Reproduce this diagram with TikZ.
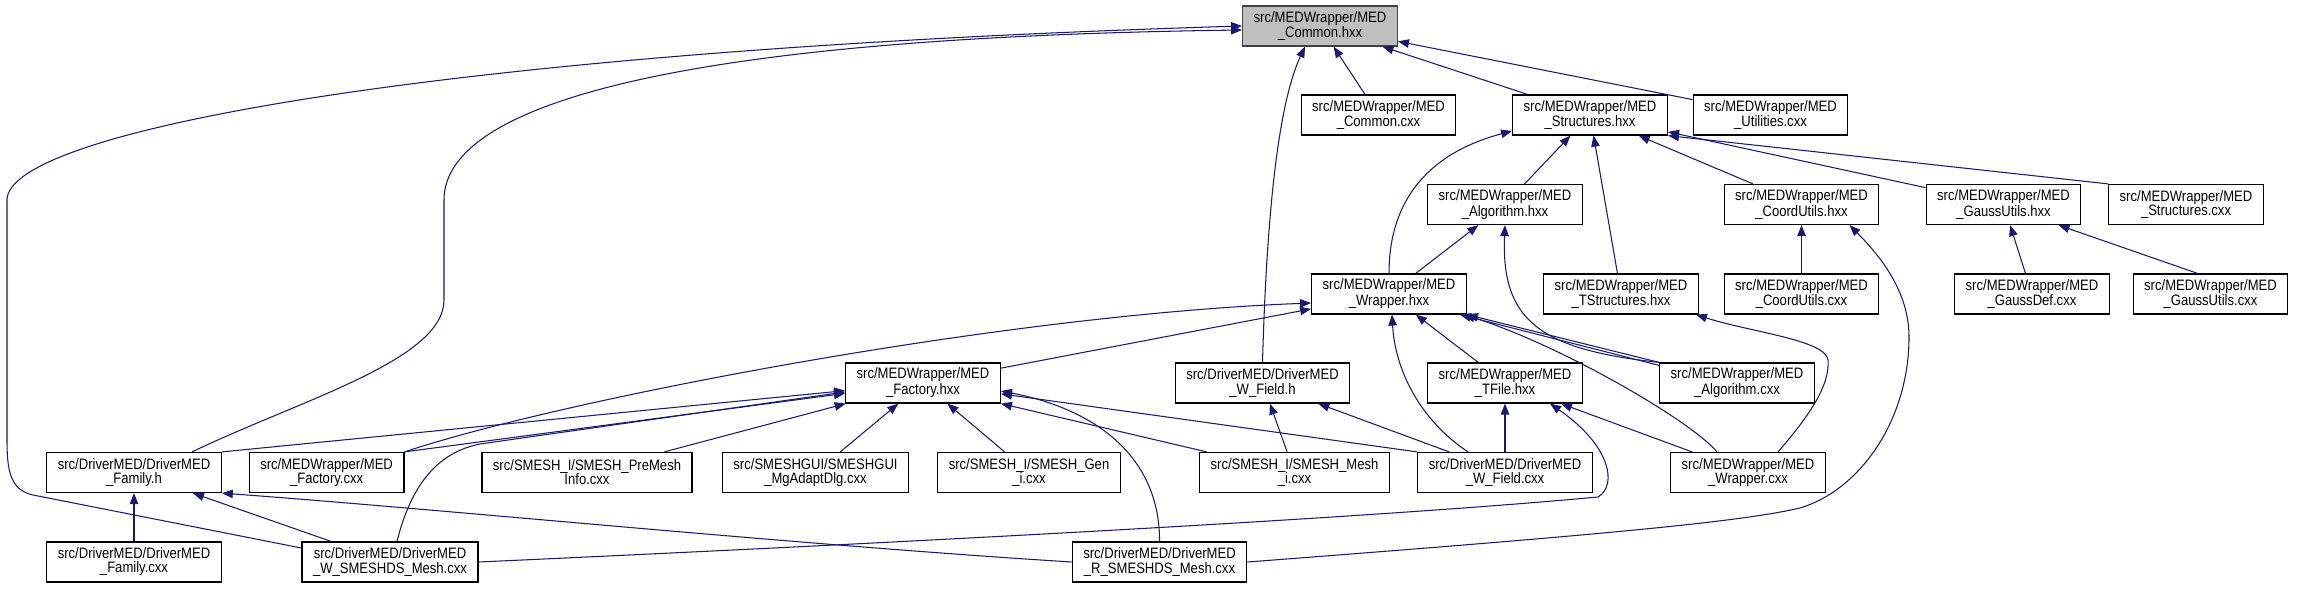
\documentclass[tikz,border=0pt]{standalone}
\usepackage{fontspec}
\setmainfont{Liberation Sans}[FakeStretch=0.865]
\usepackage{xcolor}
\usetikzlibrary{arrows.meta,calc}
\definecolor{edgeblue}{HTML}{191970}

\begin{document}
\begin{tikzpicture}[x=0.02cm,y=-0.02cm,
  every node/.style={font=\fontsize{8.6}{8}\selectfont},
  file/.style={draw,line width=0.7pt,fill=white,align=center,
    minimum height=0.8cm,inner xsep=0.22cm,inner ysep=0pt},
  focus/.style={file,fill=black!25,draw=black!75},
  dep/.style={edgeblue,line width=0.6pt,-{Triangle[length=0.22cm,width=0.17cm]}}]
\useasboundingbox (0,0) rectangle (2297,588);
% row 0
\node[focus] (common_hxx) at (1320,26) {src/MEDWrapper/MED\\\_Common.hxx};
% row 1
\node[file] (common_cxx) at (1378.5,115) {src/MEDWrapper/MED\\\_Common.cxx};
\node[file] (struct_hxx) at (1590,115) {src/MEDWrapper/MED\\\_Structures.hxx};
\node[file] (util_cxx) at (1770.5,115) {src/MEDWrapper/MED\\\_Utilities.cxx};
% row 2
\node[file] (algo_hxx) at (1505,204.5) {src/MEDWrapper/MED\\\_Algorithm.hxx};
\node[file] (coord_hxx) at (1801.5,204.5) {src/MEDWrapper/MED\\\_CoordUtils.hxx};
\node[file] (gauss_hxx) at (2003.5,204.5) {src/MEDWrapper/MED\\\_GaussUtils.hxx};
\node[file] (struct_cxx) at (2186,204.5) {src/MEDWrapper/MED\\\_Structures.cxx};
% row 3
\node[file] (wrap_hxx) at (1389,294) {src/MEDWrapper/MED\\\_Wrapper.hxx};
\node[file] (tstruct_hxx) at (1621,294) {src/MEDWrapper/MED\\\_TStructures.hxx};
\node[file] (coord_cxx) at (1801.5,294) {src/MEDWrapper/MED\\\_CoordUtils.cxx};
\node[file] (gaussdef_cxx) at (2032,294) {src/MEDWrapper/MED\\\_GaussDef.cxx};
\node[file] (gaussutil_cxx) at (2210.5,294) {src/MEDWrapper/MED\\\_GaussUtils.cxx};
% row 4
\node[file] (fact_hxx) at (923,383) {src/MEDWrapper/MED\\\_Factory.hxx};
\node[file] (wfield_h) at (1262.5,383) {src/DriverMED/DriverMED\\\_W\_Field.h};
\node[file] (tfile_hxx) at (1505,383) {src/MEDWrapper/MED\\\_TFile.hxx};
\node[file] (algo_cxx) at (1737,383) {src/MEDWrapper/MED\\\_Algorithm.cxx};
% row 5
\node[file] (family_h) at (134,472.5) {src/DriverMED/DriverMED\\\_Family.h};
\node[file] (fact_cxx) at (326.6,472.5) {src/MEDWrapper/MED\\\_Factory.cxx};
\node[file] (premesh) at (587,472.5) {src/SMESH\_I/SMESH\_PreMesh\\Info.cxx};
\node[file] (mgadapt) at (815.5,472.5) {src/SMESHGUI/SMESHGUI\\\_MgAdaptDlg.cxx};
\node[file] (gen_i) at (1029,472.5) {src/SMESH\_I/SMESH\_Gen\\\_i.cxx};
\node[file] (mesh_i) at (1294.5,472.5) {src/SMESH\_I/SMESH\_Mesh\\\_i.cxx};
\node[file] (wfield_cxx) at (1505,472.5) {src/DriverMED/DriverMED\\\_W\_Field.cxx};
\node[file] (wrap_cxx) at (1748,472.5) {src/MEDWrapper/MED\\\_Wrapper.cxx};
% row 6
\node[file] (family_cxx) at (134,562) {src/DriverMED/DriverMED\\\_Family.cxx};
\node[file] (wsmeshds) at (390,562) {src/DriverMED/DriverMED\\\_W\_SMESHDS\_Mesh.cxx};
\node[file] (rsmeshds) at (1159.5,562) {src/DriverMED/DriverMED\\\_R\_SMESHDS\_Mesh.cxx};

% into MED_Common.hxx
\draw[dep] ($(wsmeshds.west)+(0,-14)$) -- (33,495)
  .. controls (10,490) and (7,470) .. (7,440) -- (7,200)
  .. controls (7,130) and (450,50) .. (common_hxx.west);
\draw[dep] ($(family_h.north)+(58,0)$) .. controls (300,400) and (444,360) .. (444,300)
  -- (444,200) .. controls (444,110) and (650,38) .. ($(common_hxx.west)+(0,4)$);
\draw[dep] (wfield_h.north) .. controls (1267,200) and (1280,100) .. ($(common_hxx.south)+(-15,0)$);
\draw[dep] (common_cxx) -- (common_hxx);
\draw[dep] (struct_hxx) -- (common_hxx);
\draw[dep] (util_cxx) -- (common_hxx);
% into MED_Structures.hxx
\draw[dep] (wrap_hxx.north) .. controls (1389,190) and (1440,150) .. ($(struct_hxx.west)+(0,16)$);
\draw[dep] (algo_hxx) -- (struct_hxx);
\draw[dep] (tstruct_hxx) -- (struct_hxx);
\draw[dep] (coord_hxx) -- (struct_hxx);
\draw[dep] (gauss_hxx) -- (struct_hxx);
\draw[dep] (struct_cxx.north west) -- (struct_hxx.south east);
% algorithm, coord and gauss utils
\draw[dep] (wrap_hxx) -- (algo_hxx);
\draw[dep] (algo_cxx.north west) .. controls +(-120,-13) and +(-4,95) .. (algo_hxx.south);
\draw[dep] (coord_cxx) -- (coord_hxx);
\draw[dep] (rsmeshds.east) .. controls (1600,535) and (1740,522) .. (1800,508)
  .. controls (1860,490) and (1909,420) .. (1909,337)
  .. controls (1909,287) and (1874,250) .. ($(coord_hxx.south)+(48,0)$);
\draw[dep] (gaussdef_cxx) -- (gauss_hxx);
\draw[dep] ($(gaussutil_cxx.north)+(-13,0)$) -- ($(gauss_hxx.south)+(55,0)$);
% into MED_Wrapper.hxx
\draw[dep] (fact_hxx) -- (wrap_hxx);
\draw[dep] (fact_cxx.north east) .. controls (560,400) and (1000,315) .. ($(wrap_hxx.west)+(0,9)$);
\draw[dep] ($(wfield_cxx.north)+(-37,0)$) .. controls (1420,420) and (1395,370) .. ($(wrap_hxx.south)+(3,0)$);
\draw[dep] (tfile_hxx) -- (wrap_hxx);
\draw[dep] (algo_cxx.north west) -- (wrap_hxx.south east);
\draw[dep] ($(algo_cxx.north west)+(0,3)$) -- ($(wrap_hxx.south east)+(-7,0)$);
\draw[dep] ($(wrap_cxx.north)+(-31,0)$) .. controls (1690,420) and (1560,345) .. ($(wrap_hxx.south east)+(-3,0)$);
% TFile and TStructures
\draw[dep] (wrap_cxx) -- (tfile_hxx);
\draw[dep] (wfield_cxx) -- (tfile_hxx);
\draw[dep] (wsmeshds.east) .. controls (850,545) and (1350,520) .. (1598,497)
  .. controls (1618,485) and (1610,445) .. ($(tfile_hxx.south)+(45,0)$);
\draw[dep] ($(wrap_cxx.north)+(30,0)$) .. controls (1810,415) and (1830,385) .. (1828,360)
  .. controls (1826,340) and (1750,332) .. ($(tstruct_hxx.south east)+(-3,0)$);
% into MED_Factory.hxx
\draw[dep] (family_h.north east) -- (fact_hxx);
\draw[dep] (fact_cxx.north east) -- (fact_hxx);
\draw[dep] ($(wsmeshds.north)+(7,0)$) .. controls +(15,-60) and +(-40,8) .. (480,444)
  -- ($(fact_hxx.west)+(0,9)$);
\draw[dep] (premesh) -- (fact_hxx);
\draw[dep] (mgadapt) -- (fact_hxx);
\draw[dep] (gen_i) -- (fact_hxx);
\draw[dep] (mesh_i) -- (fact_hxx.south east);
\draw[dep] (wfield_cxx.north west) -- (fact_hxx);
\draw[dep] (rsmeshds.north) .. controls (1160,460) and (1100,410) .. ($(fact_hxx.east)+(0,8)$);
% W_Field.h and Family.h
\draw[dep] (mesh_i) -- (wfield_h);
\draw[dep] (wfield_cxx) -- (wfield_h);
\draw[dep] (family_cxx) -- (family_h);
\draw[dep] (wsmeshds) -- (family_h);
\draw[dep] (rsmeshds.west) .. controls (800,545) and (450,510) .. (family_h.south east);
\end{tikzpicture}
\end{document}
